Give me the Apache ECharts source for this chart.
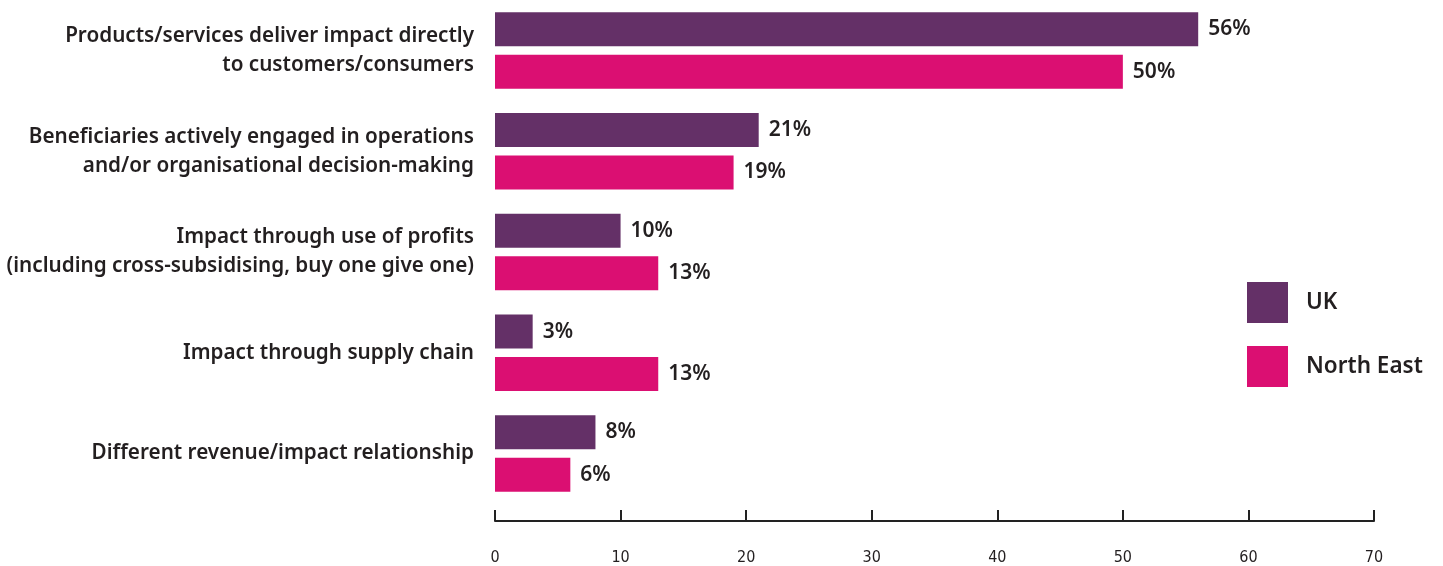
<!DOCTYPE html>
<html>
<head>
<meta charset="utf-8">
<script src="https://cdn.jsdelivr.net/npm/echarts@6/dist/echarts.min.js"></script>
<style>
  html, body { margin: 0; padding: 0; background: #fff; }
  #chart { width: 1443px; height: 566px; }
</style>
</head>
<body>
<div id="chart"></div>
<script>
// Impact model categories, top to bottom
const categories = [
  'Products/services deliver impact directly\nto customers/consumers',
  'Beneficiaries actively engaged in operations\nand/or organisational decision-making',
  'Impact through use of profits\n(including cross-subsidising, buy one give one)',
  'Impact through supply chain',
  'Different revenue/impact relationship'
];
const ukValues = [56, 21, 10, 3, 8];
const northEastValues = [50, 19, 13, 13, 6];
const xTicks = [0, 10, 20, 30, 40, 50, 60, 70];

const textColor = '#231f20';
const chart = echarts.init(document.getElementById('chart'));

const valueLabel = {
  show: true,
  position: 'right',
  distance: 10,
  formatter: p => p.value + '%',
  color: textColor,
  fontFamily: 'Noto Sans',
  fontSize: 21,
  fontWeight: 600
};

// the top label sits a little higher than its bar pair
const yAxisData = categories.map((c, i) =>
  i === 0 ? { value: c, textStyle: { padding: [0, 0, 12, 0] } } : c
);

chart.setOption({
  animation: false,
  backgroundColor: '#ffffff',
  grid: { left: 495, right: 69, top: 0, height: 506 },
  legend: {
    orient: 'vertical',
    left: 1247,
    top: 282,
    padding: 0,
    itemWidth: 41,
    itemHeight: 41,
    itemGap: 23,
    icon: 'rect',
    textStyle: {
      color: textColor,
      fontFamily: 'Noto Sans',
      fontSize: 22.5,
      fontWeight: 600,
      padding: [4, 0, 0, 13]
    },
    data: ['UK', 'North East']
  },
  xAxis: {
    type: 'value',
    min: xTicks[0],
    max: xTicks[xTicks.length - 1],
    interval: 10,
    offset: 17,
    splitLine: { show: false },
    axisLine: { show: true, lineStyle: { color: '#222', width: 2 } },
    axisTick: { show: true, inside: true, length: 11, lineStyle: { color: '#222', width: 2 } },
    axisLabel: {
      margin: 29,
      color: textColor,
      fontFamily: "'DejaVu Sans Condensed', 'Roboto Condensed', Roboto, sans-serif",
      fontSize: 16
    }
  },
  yAxis: {
    type: 'category',
    inverse: true,
    data: yAxisData,
    axisLine: { show: false },
    axisTick: { show: false },
    axisLabel: {
      margin: 21,
      align: 'right',
      color: textColor,
      fontFamily: 'Noto Sans',
      fontSize: 20.7,
      fontWeight: 600,
      lineHeight: 29
    }
  },
  series: [
    {
      name: 'UK',
      type: 'bar',
      data: ukValues,
      barWidth: 34,
      barGap: '25%',
      itemStyle: { color: '#643067' },
      label: valueLabel
    },
    {
      name: 'North East',
      type: 'bar',
      data: northEastValues,
      barWidth: 34,
      itemStyle: { color: '#db0f72' },
      label: valueLabel
    }
  ]
});
</script>
</body>
</html>
